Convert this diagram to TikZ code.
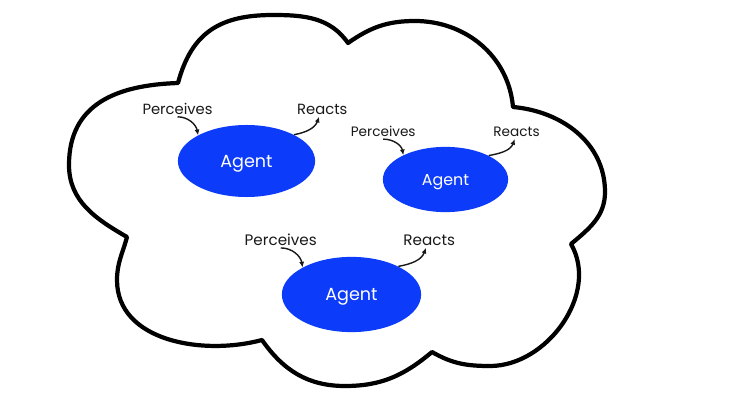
\documentclass[tikz,border=0pt]{standalone}
\usepackage{fontspec}
\setmainfont{Poppins}
\usetikzlibrary{arrows.meta, positioning, shapes.geometric}
\definecolor{agentblue}{RGB}{12,60,250}
\definecolor{ink}{RGB}{25,25,25}

\begin{document}
\begin{tikzpicture}[
    x=0.025cm, y=0.025cm,
    agent/.style={ellipse, fill=agentblue, text=white, inner sep=0pt, text depth=0pt},
    word/.style={inner sep=0pt, text=ink},
    arrow/.style={-{Latex[length=4pt,width=3.6pt]}, line width=1pt, ink},
    outline/.style={line width=3pt, line join=round}
]
\useasboundingbox (0,0) rectangle (744,-400);

% Nube
\draw[outline] (178,-83)
    to[out=75,in=180,looseness=1.15] (273,-15)
    to[out=0,in=125] (348,-43)
    to[out=35,in=180] (415,-21)
    to[out=0,in=95] (513,-107)
    to[out=-5,in=90] (605,-192)
    to[out=-90,in=40] (571,-244)
    to[out=-60,in=0] (490,-366)
    to[out=180,in=-30] (432,-352)
    to[out=-140,in=0] (345,-386)
    to[out=180,in=-55] (262,-340)
    to[out=195,in=-90] (117,-280)
    to[out=90,in=-105] (127,-237)
    to[out=150,in=-90] (69,-165)
    to[out=90,in=182,looseness=1.15] (178,-83) -- cycle;

% Agente 1
\node[agent, minimum width=3.43cm, minimum height=1.8cm, font=\fontsize{12.5}{14}\selectfont] (a1) at (246.5,-161) {Agent};
\node[word, above left=0.25cm and 0.84cm of a1.north, font=\fontsize{10.5}{12}\selectfont] (p1) {Perceives};
\node[word, above right=0.25cm and 1.26cm of a1.north, font=\fontsize{10.5}{12}\selectfont] (r1) {Reacts};
\draw[arrow] ([yshift=-1.5pt]p1.south) to[out=0,in=100] (a1.152);
\draw[arrow] (a1.29) to[out=10,in=-110] ([yshift=-1.5pt]r1.240);

% Agente 2
\node[agent, minimum width=3.13cm, minimum height=1.63cm, font=\fontsize{11.3}{13}\selectfont] (a2) at (445.5,-179.5) {Agent};
\node[word, above left=0.24cm and 0.74cm of a2.north, font=\fontsize{9.7}{11}\selectfont] (p2) {Perceives};
\node[word, above right=0.24cm and 1.19cm of a2.north, font=\fontsize{9.7}{11}\selectfont] (r2) {Reacts};
\draw[arrow] ([yshift=-1.5pt]p2.south) to[out=0,in=100] (a2.150);
\draw[arrow] (a2.29) to[out=10,in=-110] ([yshift=-1.5pt]r2.250);

% Agente 3
\node[agent, minimum width=3.48cm, minimum height=1.88cm, font=\fontsize{12.5}{14}\selectfont] (a3) at (351.5,-294.5) {Agent};
\node[word, above left=0.27cm and 0.86cm of a3.north, font=\fontsize{10.8}{12}\selectfont] (p3) {Perceives};
\node[word, above right=0.27cm and 1.29cm of a3.north, font=\fontsize{10.8}{12}\selectfont] (r3) {Reacts};
\draw[arrow] ([yshift=-1.5pt]p3.south) to[out=0,in=100] (a3.151);
\draw[arrow] (a3.31) to[out=10,in=-110] ([yshift=-1.5pt]r3.240);

\end{tikzpicture}
\end{document}
